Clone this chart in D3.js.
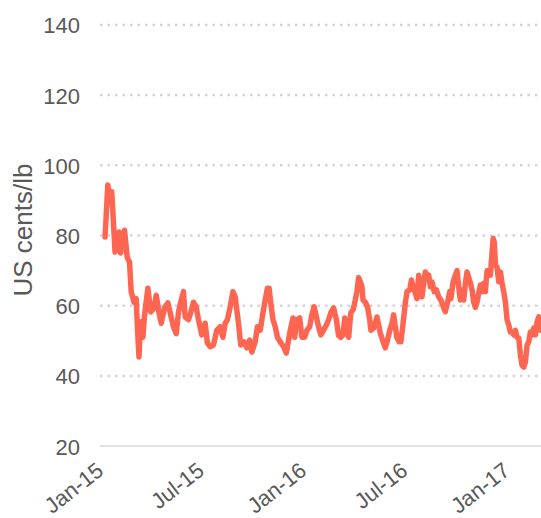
<!DOCTYPE html>
<html>
<head>
<meta charset="utf-8">
<script src="https://cdn.jsdelivr.net/npm/d3@7"></script>
<style>
  html, body { margin: 0; padding: 0; background: #ffffff; }
  svg { display: block; }
</style>
</head>
<body>
<svg id="chart" width="541" height="518"></svg>
<script>
const dates = [
"2015-01-02","2015-01-07","2015-01-11","2015-01-14","2015-01-20","2015-01-27","2015-01-30","2015-02-06","2015-02-11","2015-02-15",
"2015-02-18","2015-02-23","2015-02-27","2015-03-01","2015-03-04","2015-03-07","2015-03-11","2015-03-14","2015-03-20","2015-03-25",
"2015-03-31","2015-04-04","2015-04-09","2015-04-13","2015-04-19","2015-04-25",
"2015-05-05","2015-05-10","2015-05-14","2015-05-18","2015-05-23","2015-05-26","2015-06-01","2015-06-05","2015-06-10","2015-06-15",
"2015-06-19","2015-06-25","2015-07-01","2015-07-05","2015-07-10","2015-07-16","2015-07-22","2015-07-28","2015-08-02","2015-08-06",
"2015-08-10","2015-08-15","2015-08-20","2015-08-24","2015-08-30","2015-09-03","2015-09-09","2015-09-14","2015-09-19","2015-09-23",
"2015-09-29",
"2015-10-03","2015-10-08","2015-10-13","2015-10-17","2015-10-21","2015-10-24","2015-10-27","2015-10-31","2015-11-04","2015-11-08",
"2015-11-13","2015-11-19","2015-11-24","2015-11-28","2015-12-01","2015-12-06","2015-12-09","2015-12-13","2015-12-18","2015-12-22",
"2015-12-27","2015-12-31","2016-01-05","2016-01-09","2016-01-13","2016-01-17","2016-01-21","2016-01-25","2016-01-30","2016-02-04",
"2016-02-08","2016-02-12","2016-02-17","2016-02-22","2016-02-26",
"2016-03-01","2016-03-05","2016-03-08","2016-03-12","2016-03-15","2016-03-19","2016-03-23","2016-03-27","2016-03-30","2016-04-02",
"2016-04-05","2016-04-08","2016-04-10","2016-04-14","2016-04-18","2016-04-22","2016-04-24","2016-04-29","2016-05-02","2016-05-05",
"2016-05-08","2016-05-11","2016-05-16","2016-05-20","2016-05-24","2016-05-28","2016-06-01","2016-06-04","2016-06-07","2016-06-10",
"2016-06-14","2016-06-17","2016-06-21","2016-06-25","2016-06-28","2016-07-03","2016-07-06","2016-07-09","2016-07-13","2016-07-16",
"2016-07-19",
"2016-07-22","2016-07-25","2016-07-28","2016-07-31","2016-08-03","2016-08-06","2016-08-09","2016-08-12","2016-08-16","2016-08-20",
"2016-08-24","2016-08-28","2016-09-02","2016-09-05","2016-09-09","2016-09-13","2016-09-15","2016-09-19","2016-09-23","2016-09-26",
"2016-09-29","2016-10-02","2016-10-05","2016-10-08","2016-10-11","2016-10-14",
"2016-10-20","2016-10-23","2016-10-26","2016-10-29","2016-11-01","2016-11-04","2016-11-07","2016-11-10","2016-11-13","2016-11-16",
"2016-11-19","2016-11-22","2016-11-25","2016-11-28","2016-11-30","2016-12-02","2016-12-04","2016-12-07","2016-12-10","2016-12-13",
"2016-12-16","2016-12-19","2016-12-22","2016-12-25","2016-12-28","2016-12-31","2017-01-03","2017-01-06","2017-01-09","2017-01-12",
"2017-01-15","2017-01-18","2017-01-21","2017-01-24","2017-01-27","2017-01-30","2017-02-02","2017-02-05","2017-02-08","2017-02-11",
"2017-02-14","2017-02-17","2017-02-20","2017-02-23"
];

const prices = [
79.6,94.4,89.5,92.5,75.3,81,75,81.5,73.6,72.5,
64,61,62,54.5,45.4,55.4,51,57.3,65,58.2,
59.3,63,58,55,59.4,60.8,
54,52,58,61,64,56.8,56,58,61,59.6,
56,51.7,55,49.4,48.3,48.8,53,54,51,55,
56,59.6,64,62.5,55,48.8,49.7,48,50.2,46.8,
49.7,
54,53,58,61.6,65,65,60.8,56,54,51,
49.7,48.3,46.5,50.2,53,56.5,51,56,56.5,51,
51,53,54,57.4,59.7,56.8,54,51.7,53,54.5,
56,58,59.4,56,51.5,
51,51.7,56.5,54,51,58,58.8,61.6,64,68,
66.8,65.4,61.6,61,59.7,56,53,53.6,55,56.8,
54.5,52.2,49.7,48,50.2,53,55,57.4,54,50.8,
49.7,49.7,55,60.8,64,64.5,67.3,65.4,63.6,62,
68.7,
64.5,62.5,66.4,69.6,67.9,68.7,65.4,66.8,64,64.5,
62.5,61.6,59.4,58.3,61,64,62,66.8,68.7,70,
65.4,61.6,64.5,61.6,66.4,69.6,
66.5,64.5,61,59.5,61,63.6,65.9,64,66.4,64,
70,68.7,68.7,75.2,79.2,78.1,71.6,71,66.8,69.6,
66.4,64,61,56,54.5,52.5,52.5,51.7,53,51,
50.8,46,43,42.5,44,48.8,49.7,52.5,51.7,53.6,
51.7,55.4,56.8,53
];

const xTickDates = ["2015-01-01","2015-07-01","2016-01-01","2016-07-01","2017-01-01"];
const xTickLabels = ["Jan-15","Jul-15","Jan-16","Jul-16","Jan-17"];
const yTicks = [20,40,60,80,100,120,140];
const xDomain = ["2015-01-01","2017-02-24"];
const yDomain = [20,140];
const yTitle = "US cents/lb";

(function () {
const parse = d3.utcParse("%Y-%m-%d");
const data = dates.map((d, i) => ({date: parse(d), value: prices[i]}));

const svg = d3.select("#chart");
const plotLeft = 104.5, plotRight = 541, plotTop = 24.9, plotBottom = 446.1;
const gridLeft = 100;

const x = d3.scaleUtc().domain(xDomain.map(parse)).range([plotLeft, plotRight]);
const y = d3.scaleLinear().domain(yDomain).range([plotBottom, plotTop]);

const font = "'Liberation Sans', Arial, sans-serif";
const textColor = "#595959";

// gridlines
svg.append("g")
  .selectAll("line")
  .data(yTicks.filter(t => t !== yDomain[0]))
  .join("line")
  .attr("x1", gridLeft).attr("x2", plotRight)
  .attr("y1", d => y(d)).attr("y2", d => y(d))
  .attr("stroke", "#d4d4d4")
  .attr("stroke-width", 2.5)
  .attr("stroke-dasharray", "2.5,5");

// baseline
svg.append("line")
  .attr("x1", gridLeft).attr("x2", plotRight)
  .attr("y1", y(yDomain[0])).attr("y2", y(yDomain[0]))
  .attr("stroke", "#d9d9d9")
  .attr("stroke-width", 1.5);

// y axis
const yAxis = svg.append("g")
  .attr("transform", `translate(${gridLeft},0)`)
  .call(d3.axisLeft(y).tickValues(yTicks).tickSize(0).tickPadding(20).tickFormat(d3.format("d")));
yAxis.select(".domain").remove();
yAxis.selectAll("text")
  .attr("font-family", font)
  .attr("font-size", 22)
  .attr("fill", textColor)
  .attr("dy", "0.36em");

// x axis
const xAxis = svg.append("g")
  .attr("transform", `translate(0,${plotBottom})`)
  .call(d3.axisBottom(x).tickValues(xTickDates.map(parse)).tickSize(0)
    .tickFormat((d, i) => xTickLabels[i]));
xAxis.select(".domain").remove();
xAxis.selectAll("text")
  .attr("font-family", font)
  .attr("font-size", 22)
  .attr("fill", textColor)
  .attr("text-anchor", "end")
  .attr("x", 0).attr("y", 0).attr("dy", 0)
  .attr("transform", "translate(0,27) rotate(-38)");

// y title
svg.append("text")
  .attr("transform", "translate(32,230) rotate(-90)")
  .attr("text-anchor", "middle")
  .attr("font-family", font)
  .attr("font-size", 26)
  .attr("fill", textColor)
  .text(yTitle);

// line
const line = d3.line().x(d => x(d.date)).y(d => y(d.value));
svg.append("path")
  .datum(data)
  .attr("fill", "none")
  .attr("stroke", "#ff6652")
  .attr("stroke-width", 5.5)
  .attr("stroke-linejoin", "round")
  .attr("stroke-linecap", "round")
  .attr("d", line);
})();
</script>
</body>
</html>
